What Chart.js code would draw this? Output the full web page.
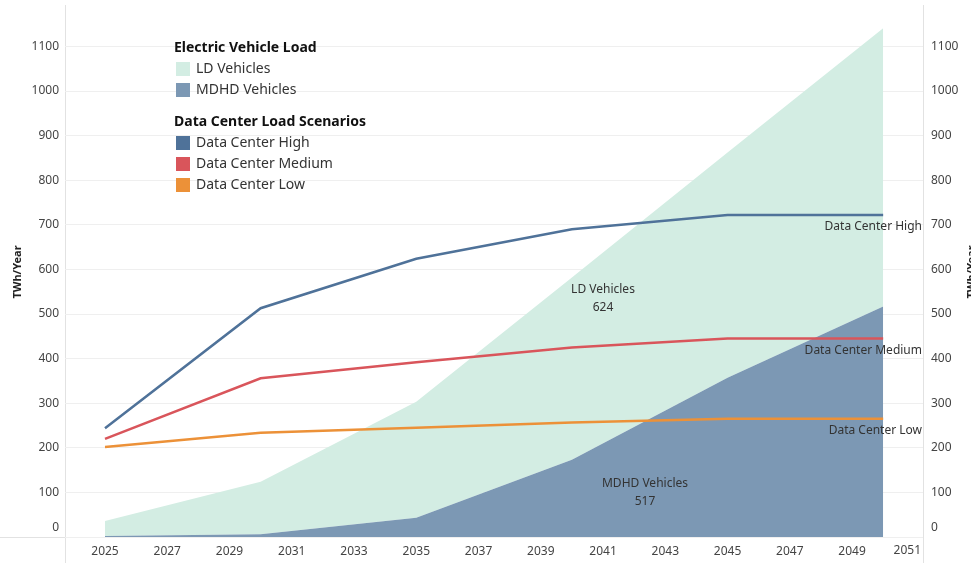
<!DOCTYPE html>
<html>
<head>
<meta charset="utf-8">
<script src="https://cdn.jsdelivr.net/npm/chart.js@4.4.1/dist/chart.umd.min.js"></script>
<style>
html,body{margin:0;padding:0;background:#fff;}
#wrap{width:971px;height:563px;position:relative;}
</style>
</head>
<body>
<div id="wrap"><canvas id="c" width="971" height="563"></canvas></div>
<script>
// ---- data ----
const years = [2025, 2030, 2035, 2040, 2045, 2050];
const ldVehicles = [34, 118, 260, 409, 505, 624];
const mdhdVehicles = [2, 6, 43, 173, 357, 517];
const dcHigh = [244, 513, 624, 690, 722, 722];
const dcMedium = [220, 356, 392, 425, 445, 445];
const dcLow = [202, 234, 245, 257, 265, 265];
const xTickLabels = [2025, 2027, 2029, 2031, 2033, 2035, 2037, 2039, 2041, 2043, 2045, 2047, 2049, 2051];
const yTickLabels = [0, 100, 200, 300, 400, 500, 600, 700, 800, 900, 1000, 1100];

const colLD = '#d3ede3';
const colMDHD = '#7c98b4';
const colHigh = '#4f7299';
const colMed = '#d9555b';
const colLow = '#ec9138';
const FONT = '"Noto Sans", "Open Sans", sans-serif';

const pts = arr => years.map((y, i) => ({x: y, y: arr[i]}));
const lastX = xTickLabels[xTickLabels.length - 1];

const overlay = {
  id: 'overlay',
  beforeDraw(chart) {
    const ctx = chart.ctx;
    const a = chart.chartArea;
    ctx.save();
    ctx.strokeStyle = '#e2e2e2';
    ctx.lineWidth = 1;
    ctx.beginPath();
    ctx.moveTo(a.left + 0.5, 5); ctx.lineTo(a.left + 0.5, 563);
    ctx.moveTo(a.right + 0.5, 5); ctx.lineTo(a.right + 0.5, 563);
    ctx.moveTo(0, a.bottom + 0.5); ctx.lineTo(a.right, a.bottom + 0.5);
    ctx.stroke();
    ctx.restore();
  },
  afterDraw(chart) {
    const ctx = chart.ctx;
    const a = chart.chartArea;
    const ys = chart.scales.y;
    ctx.save();
    // axis titles
    ctx.fillStyle = '#222';
    ctx.font = 'bold 11px ' + FONT;
    ctx.textAlign = 'center';
    ctx.textBaseline = 'middle';
    ctx.save();
    ctx.translate(18, 272);
    ctx.rotate(-Math.PI / 2);
    ctx.fillText('TWh/Year', 0, 0);
    ctx.restore();
    ctx.save();
    ctx.translate(972, 272);
    ctx.rotate(-Math.PI / 2);
    ctx.fillText('TWh/Year', 0, 0);
    ctx.restore();
    // zero labels, drawn slightly above the axis line
    ctx.font = '12px ' + FONT;
    ctx.fillStyle = '#444';
    ctx.textAlign = 'right';
    ctx.fillText('0', a.left - 6, ys.getPixelForValue(0) - 9);
    ctx.textAlign = 'left';
    ctx.fillText('0', a.right + 8, ys.getPixelForValue(0) - 9);
    // last x label, pulled inside the plot edge
    ctx.textAlign = 'right';
    ctx.fillText(String(lastX), a.right - 2, a.bottom + 14);

    // legend
    const lx = 174;
    ctx.textAlign = 'left';
    ctx.textBaseline = 'middle';
    ctx.fillStyle = '#111';
    ctx.font = 'bold 14px ' + FONT;
    ctx.fillText('Electric Vehicle Load', lx, 48);
    ctx.fillText('Data Center Load Scenarios', lx, 122);
    const items = [
      ['LD Vehicles', colLD, 69],
      ['MDHD Vehicles', colMDHD, 90],
      ['Data Center High', colHigh, 143],
      ['Data Center Medium', colMed, 164],
      ['Data Center Low', colLow, 185]
    ];
    ctx.font = '14px ' + FONT;
    items.forEach(([t, c, y]) => {
      ctx.fillStyle = c;
      ctx.fillRect(lx + 2, y - 7, 14, 14);
      ctx.fillStyle = '#333';
      ctx.fillText(t, lx + 22, y);
    });

    // annotations
    ctx.fillStyle = '#333';
    ctx.font = '12px ' + FONT;
    ctx.textAlign = 'center';
    ctx.fillText('LD Vehicles', 603, 290);
    ctx.fillText(String(ldVehicles[ldVehicles.length - 1]), 603, 308);
    ctx.fillText('MDHD Vehicles', 645, 484);
    ctx.fillText(String(mdhdVehicles[mdhdVehicles.length - 1]), 645, 502);
    ctx.textAlign = 'right';
    ctx.fillText('Data Center High', 922, 227);
    ctx.fillText('Data Center Medium', 922, 351);
    ctx.fillText('Data Center Low', 922, 431);
    ctx.restore();
  }
};

const yTicksFixed = scale => { scale.ticks = yTickLabels.map(v => ({value: v})); };

new Chart(document.getElementById('c'), {
  type: 'line',
  data: {
    datasets: [
      {label: 'Data Center High', data: pts(dcHigh), stack: 'h', borderColor: colHigh, borderWidth: 2.5, pointRadius: 0, fill: false},
      {label: 'Data Center Medium', data: pts(dcMedium), stack: 'm', borderColor: colMed, borderWidth: 2.5, pointRadius: 0, fill: false},
      {label: 'Data Center Low', data: pts(dcLow), stack: 'l', borderColor: colLow, borderWidth: 2.5, pointRadius: 0, fill: false},
      {label: 'MDHD Vehicles', data: pts(mdhdVehicles), stack: 'ev', borderWidth: 0, borderColor: 'rgba(0,0,0,0)', backgroundColor: colMDHD, pointRadius: 0, fill: 'origin'},
      {label: 'LD Vehicles', data: pts(ldVehicles), stack: 'ev', borderWidth: 0, borderColor: 'rgba(0,0,0,0)', backgroundColor: colLD, pointRadius: 0, fill: '-1'}
    ]
  },
  options: {
    responsive: false,
    animation: false,
    devicePixelRatio: 1,
    layout: {padding: {top: 5, left: 0, right: 0, bottom: 0}},
    plugins: {legend: {display: false}, tooltip: {enabled: false}, filler: {propagate: false}},
    elements: {line: {tension: 0}},
    scales: {
      x: {
        type: 'linear',
        min: 2023.715,
        max: 2051.28,
        afterBuildTicks: scale => { scale.ticks = xTickLabels.map(v => ({value: v})); },
        afterFit: scale => { scale.height = 26; },
        grid: {display: false, drawTicks: false},
        border: {display: false},
        ticks: {padding: 7, color: '#444', font: {family: FONT, size: 12}, callback: v => v === lastX ? '' : String(v), maxRotation: 0, autoSkip: false}
      },
      y: {
        type: 'linear',
        stacked: true,
        position: 'left',
        min: 0,
        max: 1170,
        afterBuildTicks: yTicksFixed,
        afterFit: scale => { scale.width = 65; },
        grid: {color: '#efefef', lineWidth: 1, drawTicks: false},
        border: {display: false},
        ticks: {padding: 6, color: '#444', font: {family: FONT, size: 12}, callback: v => v === 0 ? '' : String(v)}
      },
      y2: {
        type: 'linear',
        position: 'right',
        min: 0,
        max: 1170,
        afterBuildTicks: yTicksFixed,
        afterFit: scale => { scale.width = 48; },
        grid: {display: false, drawTicks: false},
        border: {display: false},
        ticks: {padding: 8, color: '#444', font: {family: FONT, size: 12}, callback: v => v === 0 ? '' : String(v)}
      }
    }
  },
  plugins: [overlay]
});
</script>
</body>
</html>
